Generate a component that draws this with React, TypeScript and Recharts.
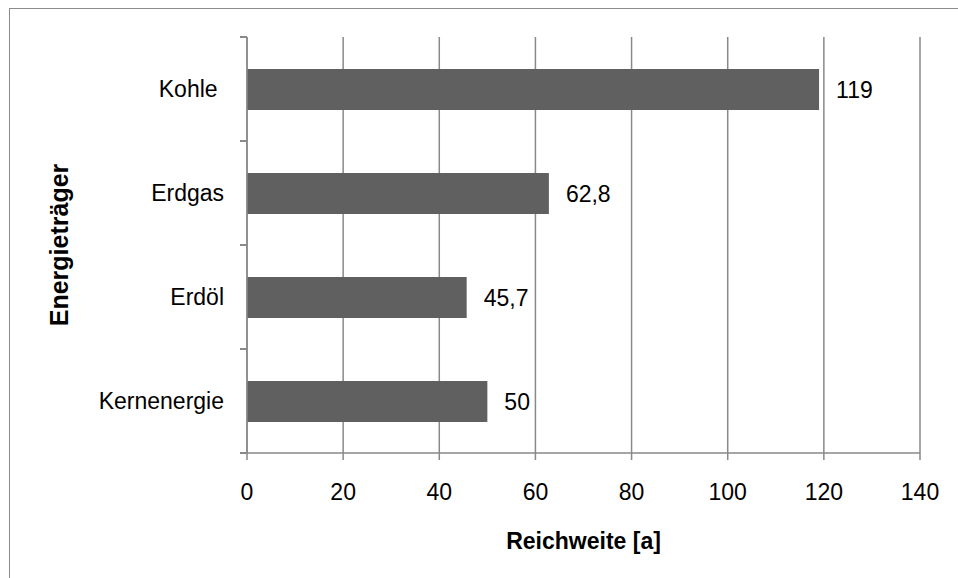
import { BarChart, Bar, XAxis, YAxis, CartesianGrid, LabelList, Label } from "recharts";

const categories = ["Kohle ", "Erdgas", "Erdöl", "Kernenergie"];
const reach = [119, 62.8, 45.7, 50];
const xTicks = [0, 20, 40, 60, 80, 100, 120, 140];

const data = categories.map((name, i) => ({ name, value: reach[i] }));

const FONT = "'Liberation Sans', Arial, sans-serif";
const LINE = "#898989";
const BAR = "#606060";
const LABEL_GAP = 23;

// category label at band centre, tick marks on the band edges
function CategoryTick(props: any) {
  const { x, y, payload, index } = props;
  const band = props.bandSize ?? 104;
  const ax = x + LABEL_GAP;
  return (
    <g>
      <line x1={ax} x2={ax - 7} y1={y - band / 2} y2={y - band / 2} stroke={LINE} strokeWidth={2} />
      {index === categories.length - 1 && (
        <line x1={ax} x2={ax - 7} y1={y + band / 2} y2={y + band / 2} stroke={LINE} strokeWidth={2} />
      )}
      <text
        x={x}
        y={y}
        textAnchor="end"
        dominantBaseline="central"
        fontSize={23}
        fill="#000"
        fontFamily={FONT}
        style={{ whiteSpace: "pre" }}
      >
        {payload.value}
      </text>
    </g>
  );
}

export default function App() {
  const W = 958;
  const H = 578;
  return (
    <div style={{ position: "absolute", left: 0, top: 0, width: W, height: H, background: "#fff", overflow: "hidden" }}>
      <div
        style={{
          position: "absolute",
          left: 9,
          top: 8,
          width: W + 20,
          height: H + 20,
          border: "1.5px solid #8c8c8c",
          boxSizing: "border-box",
        }}
      />
      <BarChart
        width={W}
        height={H}
        data={data}
        layout="vertical"
        margin={{ top: 37, right: 38, bottom: 0, left: 0 }}
        style={{ position: "absolute", left: 0, top: 0, fontFamily: FONT }}
      >
        <CartesianGrid horizontal={false} stroke={LINE} strokeWidth={1.5} />
        <XAxis
          type="number"
          domain={[0, 140]}
          ticks={xTicks}
          interval={0}
          height={125}
          tickSize={7}
          tickMargin={24}
          axisLine={{ stroke: LINE, strokeWidth: 1.5 }}
          tickLine={{ stroke: LINE, strokeWidth: 1.5 }}
          tick={{ fill: "#000", fontSize: 23, fontFamily: FONT }}
        >
          <Label
            value="Reichweite [a]"
            position="insideBottom"
            offset={29}
            style={{ fontSize: 23, fontWeight: "bold", fill: "#000", fontFamily: FONT }}
          />
        </XAxis>
        <YAxis
          type="category"
          dataKey="name"
          width={247}
          tickSize={0}
          tickMargin={LABEL_GAP}
          tickLine={false}
          axisLine={{ stroke: LINE, strokeWidth: 1.5 }}
          tick={<CategoryTick bandSize={104} />}
        >
          <Label
            content={({ viewBox }: any) => {
              const cx = viewBox.x + 59;
              const cy = viewBox.y + viewBox.height / 2;
              return (
                <text
                  x={cx}
                  y={cy}
                  transform={`rotate(-90, ${cx}, ${cy})`}
                  textAnchor="middle"
                  dominantBaseline="central"
                  fontSize={25}
                  fontWeight="bold"
                  fill="#000"
                  fontFamily={FONT}
                >
                  Energieträger
                </text>
              );
            }}
          />
        </YAxis>
        <Bar dataKey="value" fill={BAR} barSize={41} isAnimationActive={false}>
          <LabelList
            dataKey="value"
            position="right"
            offset={17}
            fill="#000"
            fontSize={23}
            fontFamily={FONT}
            formatter={(v: any) => String(v).replace(".", ",")}
          />
        </Bar>
      </BarChart>
    </div>
  );
}
